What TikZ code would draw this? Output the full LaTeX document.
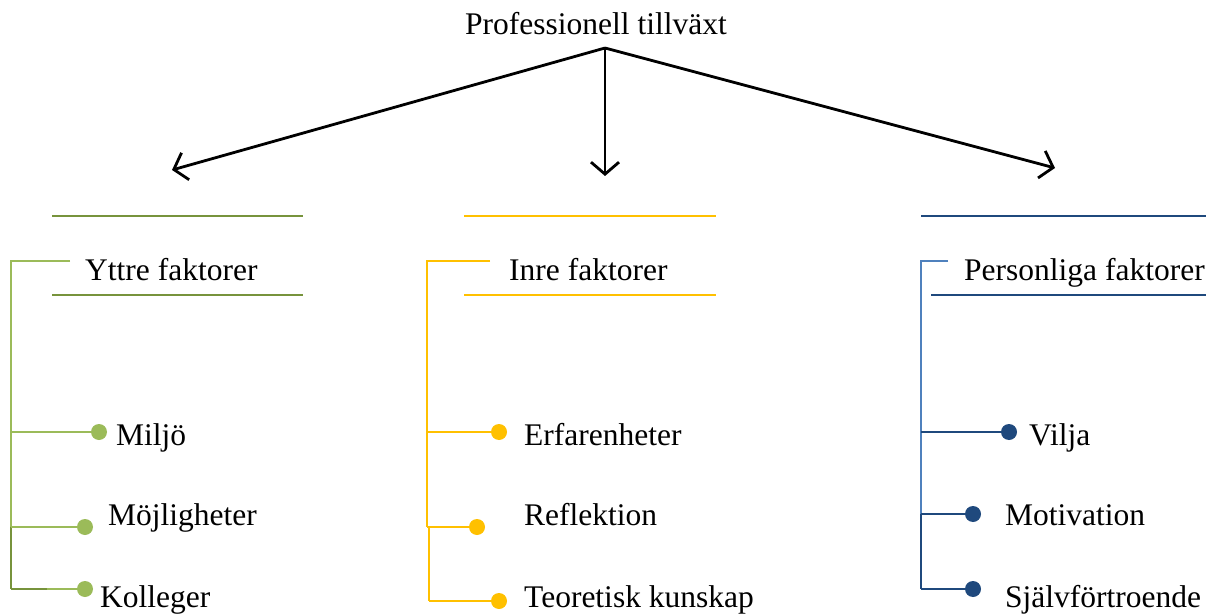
\documentclass[tikz,border=0pt]{standalone}
\usepackage{fontspec}
\setmainfont{Liberation Serif}
\usetikzlibrary{arrows.meta}
\definecolor{gdark}{HTML}{77933C}
\definecolor{glight}{HTML}{9BBB59}
\definecolor{ydark}{HTML}{FFC000}
\definecolor{bdark}{HTML}{1F497D}
\definecolor{blight}{HTML}{4F81BD}
\tikzset{
  lbl/.style={anchor=base west, inner sep=0pt, font=\fontsize{31.5}{36}\selectfont},
  rule/.style={line width=2.2pt},
  brk/.style={line width=2.8pt},
  dot/.style={circle, fill=#1, draw=none, minimum size=16pt, inner sep=0pt},
  arr/.style={line width=2.8pt, -{Straight Barb[length=12pt,width=28pt,line width=2.8pt]}}
}
\begin{document}
\begin{tikzpicture}[x=1pt,y=-1pt]
\useasboundingbox (0,0) rectangle (1216,615);
% title and arrows
\node[inner sep=0pt, anchor=base, font=\fontsize{31.5}{36}\selectfont] (title) at (596,35) {Professionell tillväxt};
\coordinate (hub) at (605,48);
\coordinate (tl) at (172,170);
\coordinate (tm) at (605,176);
\coordinate (tr) at (1055,168);
\draw[arr] (hub) -- (tl);
\draw[arr] (hub) -- (tm);
\draw[arr] (hub) -- (tr);

% ---------- green group ----------
\draw[rule, gdark] (52,216) -- (303,216);
\draw[rule, gdark] (52,295) -- (303,295);
\node[lbl] (yttre) at (85,280) {Yttre faktorer};
\coordinate (g0) at (11,261);
\coordinate (g0e) at (70,261);
\coordinate (g1) at (11,432);
\coordinate (g2) at (11,527);
\coordinate (g3) at (11,589);
\node[dot=glight] (gd1) at (99,432) {};
\node[dot=glight] (gd2) at (85,527) {};
\node[dot=glight] (gd3) at (85,589) {};
\draw[brk, glight] (g0e) -- (g0) -- (g2);
\draw[brk, gdark] (g2) -- (g3);
\draw[brk, glight] (g1) -- (gd1.center);
\draw[brk, glight] (g2) -- (gd2.center);
\coordinate (g3m) at (47,589);
\draw[brk, gdark] (g3) -- (g3m);
\draw[brk, glight] (g3m) -- (gd3.center);
\node[lbl] (miljo) at (116,445) {Miljö};
\node[lbl] (mojl) at (108,525) {Möjligheter};
\node[lbl] (koll) at (100,607) {Kolleger};

% ---------- yellow group ----------
\draw[rule, ydark] (464,216) -- (716,216);
\draw[rule, ydark] (464,295) -- (716,295);
\node[lbl] (inre) at (509,280) {Inre faktorer};
\coordinate (y0) at (427,261);
\coordinate (y0e) at (490,261);
\coordinate (y1) at (427,432);
\coordinate (y2) at (427,527);
\coordinate (y2b) at (429,527);
\coordinate (y3) at (429,601);
\node[dot=ydark] (yd1) at (499,432) {};
\node[dot=ydark] (yd2) at (477,527) {};
\node[dot=ydark] (yd3) at (499,601) {};
\draw[brk, ydark] (y0e) -- (y0) -- (y2);
\draw[brk, ydark] (y2b) -- (y3);
\draw[brk, ydark] (y1) -- (yd1.center);
\draw[brk, ydark] (y2) -- (yd2.center);
\draw[brk, ydark] (y3) -- (yd3.center);
\node[lbl] (erf) at (524,445) {Erfarenheter};
\node[lbl] (refl) at (524,525) {Reflektion};
\node[lbl] (teor) at (524,607) {Teoretisk kunskap};

% ---------- blue group ----------
\draw[rule, bdark] (921,216) -- (1206,216);
\draw[rule, bdark] (931,295) -- (1206,295);
\node[lbl] (pers) at (964,280) {Personliga faktorer};
\coordinate (b0) at (921,261);
\coordinate (b0e) at (948,261);
\coordinate (b1) at (921,432);
\coordinate (b2) at (921,514);
\coordinate (b3) at (921,589);
\node[dot=bdark] (bd1) at (1009,432) {};
\node[dot=bdark] (bd2) at (973,514) {};
\node[dot=bdark] (bd3) at (973,589) {};
\draw[brk, blight] (b0e) -- (b0) -- (b2);
\draw[brk, bdark] (b2) -- (b3);
\draw[brk, bdark] (b1) -- (bd1.center);
\draw[brk, bdark] (b2) -- (bd2.center);
\draw[brk, bdark] (b3) -- (bd3.center);
\node[lbl] (vilja) at (1029,445) {Vilja};
\node[lbl] (motiv) at (1005,525) {Motivation};
\node[lbl] (sjalv) at (1005,607) {Självförtroende};
\end{tikzpicture}
\end{document}
